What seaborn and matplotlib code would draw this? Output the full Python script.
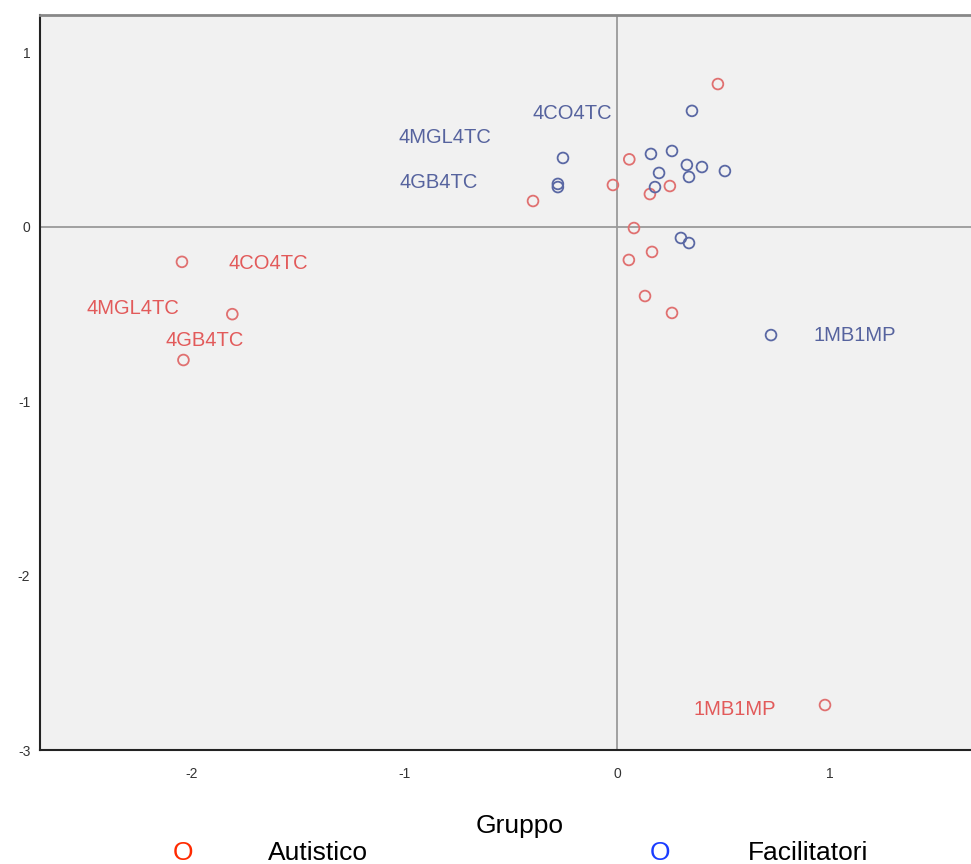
import matplotlib
matplotlib.use("Agg")
import matplotlib.pyplot as plt
import seaborn as sns
import pandas as pd

# ---- data ----
aut_x = [0.475, 0.058, -0.019, -0.395, 0.155, 0.249, 0.080, 0.056, 0.165, 0.132, 0.259,
         -2.047, -1.810, -2.040, 0.979]
aut_y = [0.820, 0.388, 0.241, 0.149, 0.189, 0.235, -0.006, -0.189, -0.143, -0.396, -0.493,
         -0.200, -0.500, -0.763, -2.742]
fac_x = [0.353, -0.254, -0.278, -0.278, 0.160, 0.259, 0.198, 0.329, 0.400, 0.508, 0.339,
         0.179, 0.301, 0.339, 0.725]
fac_y = [0.666, 0.396, 0.247, 0.229, 0.419, 0.436, 0.310, 0.356, 0.344, 0.321, 0.287,
         0.229, -0.063, -0.092, -0.620]
groups = ["Autistico", "Facilitatori"]

aut_label_text = ["4CO4TC", "4MGL4TC", "4GB4TC", "1MB1MP"]
aut_label_x = [-1.64, -2.28, -1.94, 0.555]
aut_label_y = [-0.21, -0.465, -0.65, -2.77]
fac_label_text = ["4CO4TC", "4MGL4TC", "4GB4TC", "1MB1MP"]
fac_label_x = [-0.21, -0.81, -0.84, 1.12]
fac_label_y = [0.65, 0.516, 0.258, -0.625]

x_ticks = [-2, -1, 0, 1]
y_ticks = [1, 0, -1, -2, -3]

# ---- styles ----
pt_colors = {"Autistico": "#e07070", "Facilitatori": "#5a68a4"}
lbl_colors = {"Autistico": "#e25a5a", "Facilitatori": "#56639e"}
leg_colors = {"Autistico": "#ff2a00", "Facilitatori": "#1a3cff"}

df = pd.DataFrame({
    "x": aut_x + fac_x,
    "y": aut_y + fac_y,
    "Gruppo": [groups[0]] * len(aut_x) + [groups[1]] * len(fac_x),
})

sns.set_style("white")
plt.rcParams["font.family"] = ["Liberation Sans", "DejaVu Sans"]

fig = plt.figure(figsize=(9.71, 8.64), dpi=100)
ax = fig.add_axes([40 / 971, 1 - 750 / 864, 1 - 40 / 971, (750 - 15) / 864])
ax.set_facecolor("#f1f1f1")

ax.axhline(0, color="#9a9a9a", lw=1.3, zorder=1)
ax.axvline(0, color="#9a9a9a", lw=1.3, zorder=1)

sns.scatterplot(data=df, x="x", y="y", hue="Gruppo", palette=pt_colors,
                s=60, linewidth=1.3, legend=False, ax=ax, zorder=3)
for coll in ax.collections:
    fc = coll.get_facecolors()
    coll.set_edgecolors(fc)
    coll.set_facecolors("none")

for t, x, y in zip(aut_label_text, aut_label_x, aut_label_y):
    ax.text(x, y, t, color=lbl_colors["Autistico"], fontsize=14.5, ha="center", va="center")
for t, x, y in zip(fac_label_text, fac_label_x, fac_label_y):
    ax.text(x, y, t, color=lbl_colors["Facilitatori"], fontsize=14.5, ha="center", va="center")

ax.set_xlim(-2.715, 1.666)
ax.set_ylim(-3.0, 1.216)
ax.set_xticks(x_ticks)
ax.set_yticks(y_ticks)
ax.set_xticklabels([str(v) for v in x_ticks])
ax.set_yticklabels([str(v) for v in y_ticks])
ax.tick_params(axis="x", direction="out", length=7, width=1.2, color="#333333",
               labelsize=10, labelcolor="#333333", pad=5)
ax.tick_params(axis="y", direction="out", length=5, width=1.2, color="#333333",
               labelsize=10, labelcolor="#333333", pad=2)
ax.set_xlabel("")
ax.set_ylabel("")

ax.spines["left"].set_color("#222222")
ax.spines["left"].set_linewidth(1.5)
ax.spines["bottom"].set_color("#222222")
ax.spines["bottom"].set_linewidth(1.5)
ax.spines["top"].set_color("#888888")
ax.spines["top"].set_linewidth(2.0)
ax.spines["right"].set_visible(False)

# legend drawn as text
fig.text(520 / 971, 1 - 826 / 864, "Gruppo", fontsize=19, ha="center", va="center", color="black")
fig.text(183 / 971, 1 - 853 / 864, "O", fontsize=19, ha="center", va="center", color=leg_colors["Autistico"])
fig.text(268 / 971, 1 - 853 / 864, "Autistico", fontsize=19, ha="left", va="center", color="black")
fig.text(660 / 971, 1 - 853 / 864, "O", fontsize=19, ha="center", va="center", color=leg_colors["Facilitatori"])
fig.text(748 / 971, 1 - 853 / 864, "Facilitatori", fontsize=19, ha="left", va="center", color="black")

fig.savefig("out.png", dpi=100, facecolor="white")
